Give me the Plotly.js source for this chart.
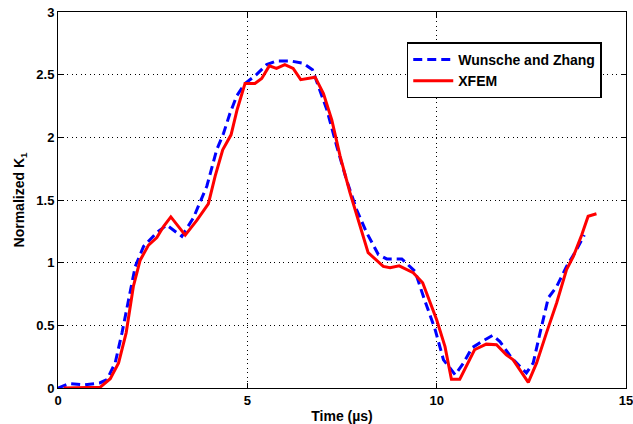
<!DOCTYPE html>
<html>
<head>
<meta charset="utf-8">
<script src="https://cdn.plot.ly/plotly-3.0.1.min.js"></script>
<style>html,body{margin:0;padding:0;background:#fff;}#chart{width:633px;height:424px;}</style>
</head>
<body>
<div id="chart"></div>
<script>
// Wunsche and Zhang reference solution
const wzTime = [0, 0.3, 0.7, 1.1, 1.29, 1.51, 1.69, 1.86, 2.04, 2.26, 2.61, 2.87, 3.27, 3.58, 3.93, 4.19, 4.37, 4.54, 4.72, 4.94, 5.24, 5.51, 5.77, 6.13, 6.48, 6.72, 6.92, 7.1, 7.36, 7.62, 7.89, 8.15, 8.46, 8.68, 9.08, 9.43, 9.65, 9.96, 10.18, 10.49, 10.71, 10.93, 11.19, 11.48, 11.67, 11.98, 12.37, 12.55, 12.73, 12.95, 13.17, 13.43, 13.65, 13.9];
const wzK = [0, 0.035, 0.025, 0.04, 0.066, 0.2, 0.44, 0.70, 0.97, 1.13, 1.24, 1.30, 1.21, 1.36, 1.61, 1.90, 2.03, 2.19, 2.33, 2.43, 2.50, 2.58, 2.61, 2.61, 2.59, 2.54, 2.38, 2.22, 1.93, 1.66, 1.42, 1.24, 1.065, 1.03, 1.03, 0.93, 0.73, 0.465, 0.225, 0.105, 0.2, 0.32, 0.37, 0.42, 0.37, 0.24, 0.12, 0.2, 0.44, 0.72, 0.81, 0.97, 1.08, 1.22];

// XFEM result
const xfemTime = [0.15, 1.11, 1.38, 1.6, 1.8, 1.99, 2.17, 2.39, 2.61, 2.79, 2.98, 3.36, 3.67, 3.97, 4.15, 4.35, 4.57, 4.73, 4.94, 5.2, 5.38, 5.58, 5.77, 5.99, 6.21, 6.41, 6.79, 7.01, 7.23, 7.45, 7.71, 8.02, 8.19, 8.59, 8.77, 9.01, 9.38, 9.63, 10.0, 10.22, 10.39, 10.61, 11.0, 11.31, 11.58, 11.84, 12.02, 12.42, 12.64, 12.9, 13.17, 13.43, 13.61, 13.83, 14.0, 14.22];
const xfemK = [0, 0.005, 0.074, 0.2, 0.44, 0.81, 1.02, 1.14, 1.20, 1.29, 1.365, 1.22, 1.34, 1.47, 1.69, 1.90, 2.02, 2.22, 2.43, 2.43, 2.47, 2.57, 2.55, 2.58, 2.55, 2.46, 2.48, 2.35, 2.14, 1.85, 1.56, 1.24, 1.08, 0.97, 0.96, 0.975, 0.92, 0.84, 0.545, 0.33, 0.07, 0.07, 0.305, 0.35, 0.345, 0.265, 0.225, 0.045, 0.2, 0.44, 0.68, 0.945, 1.05, 1.22, 1.37, 1.39];

const xTicks = [0, 5, 10, 15];
const yTicks = [0, 0.5, 1, 1.5, 2, 2.5, 3];
const seriesNames = ['Wunsche and Zhang', 'XFEM'];

const FONT = 'Liberation Sans, Arial, Helvetica, sans-serif';

const traces = [
  {x: wzTime, y: wzK, name: seriesNames[0], type: 'scatter', mode: 'lines',
   line: {color: '#0000ff', width: 3, dash: '9px,5px'}},
  {x: xfemTime, y: xfemK, name: seriesNames[1], type: 'scatter', mode: 'lines',
   line: {color: '#ff0000', width: 3}}
];

const axisCommon = {
  showline: true, linecolor: '#000', linewidth: 1, mirror: 'allticks',
  ticks: 'inside', ticklen: 5, tickcolor: '#000', tickwidth: 1,
  showgrid: true, gridcolor: '#000', gridwidth: 1, griddash: '1px,3.5px',
  zeroline: false, ticklabeloverflow: 'allow',
  tickfont: {family: FONT, size: 13, color: '#000', weight: 'bold'}
};

const layout = {
  width: 633, height: 424,
  margin: {l: 58, r: 7, t: 12, b: 36},
  paper_bgcolor: '#fff', plot_bgcolor: '#fff',
  font: {family: FONT, color: '#000'},
  showlegend: true,
  legend: {
    x: 0.614, y: 0.919, xanchor: 'left', yanchor: 'top',
    bgcolor: '#fff', bordercolor: '#000', borderwidth: 1.5,
    font: {family: FONT, size: 14, color: '#000', weight: 'bold'},
    itemwidth: 40, tracegroupgap: 0
  },
  xaxis: Object.assign({}, axisCommon, {
    range: [0, 15], tickmode: 'array', tickvals: xTicks, ticktext: xTicks.map(String),
    title: {text: 'Time (\u00b5s)', standoff: 6,
            font: {family: FONT, size: 14, color: '#000', weight: 'bold'}}
  }),
  yaxis: Object.assign({}, axisCommon, {
    range: [0, 3], tickmode: 'array', tickvals: yTicks, ticktext: yTicks.map(String),
    title: {text: 'Normalized K<sub>1</sub>', standoff: 8,
            font: {family: FONT, size: 14, color: '#000', weight: 'bold'}}
  })
};

Plotly.newPlot('chart', traces, layout, {displayModeBar: false, staticPlot: true});
</script>
</body>
</html>
